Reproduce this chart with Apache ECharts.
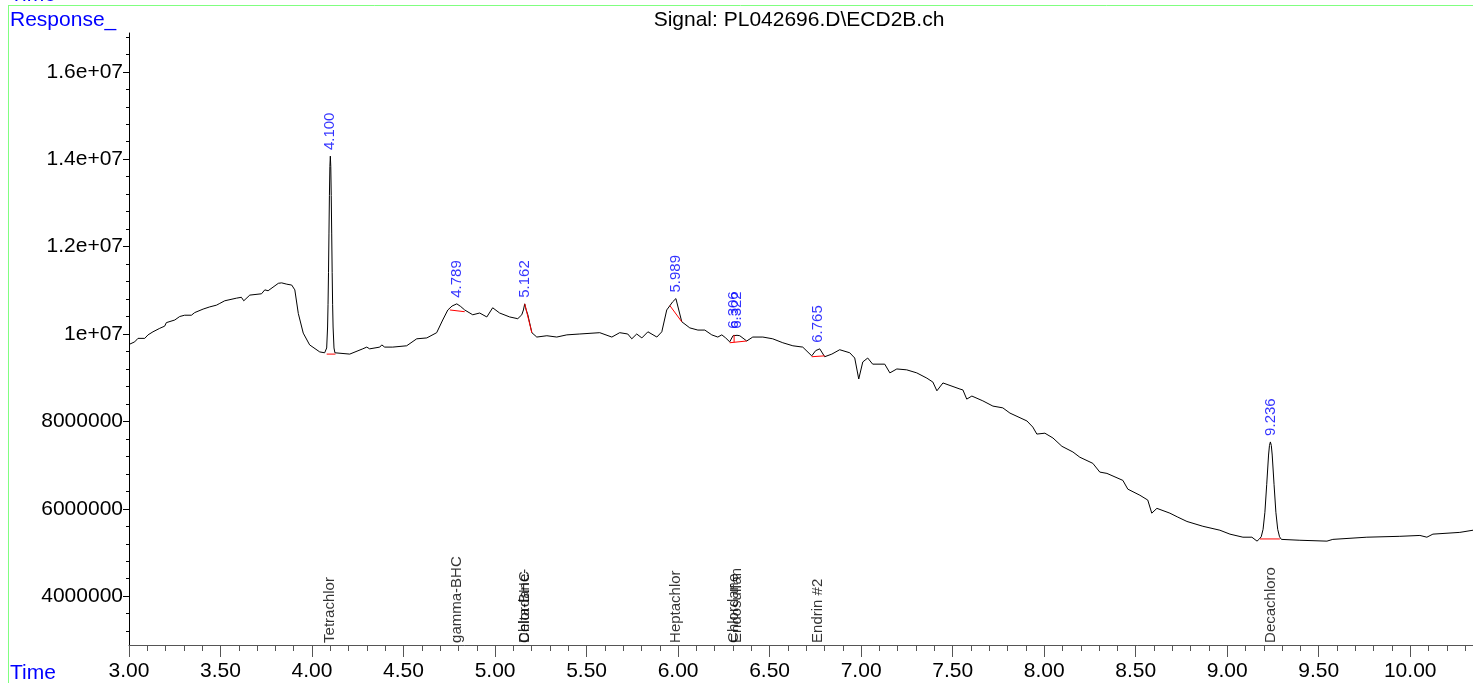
<!DOCTYPE html>
<html><head><meta charset="utf-8">
<script src="https://cdn.jsdelivr.net/npm/echarts@6/dist/echarts.min.js"></script>
<style>html,body{margin:0;padding:0;background:#fff;overflow:hidden}#c{width:1473px;height:683px}</style>
</head><body><div id="c"></div>
<script>
// Signal trace: [time (min), response]
const signal = [
[3.000,9.76e6],[3.004,9.77e6],[3.031,9.82e6],[3.049,9.90e6],[3.086,9.90e6],[3.104,9.98e6],[3.113,9.94e6],
[3.131,10.05e6],[3.168,10.13e6],[3.195,10.18e6],[3.204,10.26e6],[3.250,10.32e6],[3.277,10.40e6],[3.304,10.43e6],
[3.341,10.43e6],[3.359,10.49e6],[3.405,10.57e6],[3.441,10.62e6],[3.478,10.66e6],[3.496,10.70e6],[3.523,10.76e6],
[3.587,10.82e6],[3.614,10.84e6],[3.627,10.76e6],[3.660,10.89e6],[3.724,10.92e6],[3.742,11.01e6],[3.760,10.99e6],
[3.816,11.16e6],[3.834,11.17e6],[3.862,11.14e6],[3.889,11.12e6],[3.906,11.01e6],[3.925,10.47e6],[3.952,10.02e6],
[3.987,9.75e6],[4.042,9.59e6],[4.069,9.57e6],
[4.075,9.57e6],[4.080,9.68e6],[4.085,10.16e6],[4.0875,10.68e6],[4.090,11.41e6],[4.0925,12.29e6],[4.095,13.17e6],
[4.0975,13.83e6],[4.100,14.07e6],[4.1025,13.83e6],[4.105,13.17e6],[4.1075,12.29e6],[4.110,11.41e6],[4.1125,10.68e6],
[4.115,10.16e6],[4.120,9.68e6],[4.125,9.57e6],
[4.135,9.54e6],[4.206,9.54e6],[4.277,9.66e6],[4.299,9.70e6],[4.315,9.66e6],[4.370,9.70e6],[4.381,9.75e6],
[4.397,9.70e6],[4.441,9.70e6],[4.517,9.73e6],[4.572,9.89e6],[4.627,9.91e6],[4.681,10.03e6],[4.714,10.32e6],
[4.742,10.55e6],[4.765,10.64e6],[4.791,10.69e6],[4.812,10.63e6],[4.834,10.55e6],[4.878,10.44e6],[4.916,10.48e6],
[4.955,10.39e6],[4.987,10.60e6],[5.025,10.48e6],[5.080,10.39e6],[5.124,10.35e6],[5.146,10.44e6],[5.155,10.55e6],
[5.162,10.69e6],[5.170,10.55e6],[5.179,10.44e6],[5.201,10.03e6],[5.228,9.93e6],[5.283,9.96e6],[5.337,9.93e6],
[5.392,9.98e6],[5.463,10.00e6],[5.572,10.03e6],[5.638,9.93e6],[5.681,10.03e6],[5.725,10.00e6],[5.747,9.89e6],
[5.774,10.00e6],[5.802,9.91e6],[5.835,10.05e6],[5.884,9.93e6],[5.911,10.05e6],[5.938,10.55e6],[5.971,10.74e6],
[5.988,10.81e6],[6.020,10.28e6],[6.064,10.14e6],[6.108,10.09e6],[6.146,10.09e6],[6.184,9.98e6],[6.217,9.93e6],
[6.239,9.98e6],[6.260,9.91e6],[6.282,9.82e6],[6.300,9.96e6],[6.309,9.98e6],[6.322,9.97e6],[6.337,9.96e6],
[6.375,9.84e6],[6.408,9.93e6],[6.463,9.93e6],[6.517,9.89e6],[6.572,9.80e6],[6.627,9.73e6],[6.681,9.70e6],
[6.730,9.50e6],[6.752,9.62e6],[6.774,9.66e6],[6.801,9.48e6],[6.840,9.54e6],[6.883,9.64e6],[6.938,9.57e6],
[6.965,9.45e6],[6.987,8.97e6],[7.009,9.36e6],[7.036,9.45e6],[7.063,9.31e6],[7.129,9.31e6],[7.157,9.11e6],
[7.195,9.20e6],[7.249,9.18e6],[7.304,9.11e6],[7.359,8.99e6],[7.392,8.90e6],[7.414,8.70e6],[7.447,8.88e6],
[7.540,8.74e6],[7.556,8.72e6],[7.577,8.51e6],[7.605,8.58e6],[7.665,8.47e6],[7.720,8.35e6],[7.774,8.31e6],
[7.813,8.19e6],[7.906,8.01e6],[7.938,7.87e6],[7.960,7.71e6],[8.004,7.73e6],[8.048,7.62e6],[8.097,7.43e6],
[8.157,7.30e6],[8.195,7.18e6],[8.266,7.04e6],[8.304,6.84e6],[8.343,6.81e6],[8.430,6.65e6],[8.457,6.45e6],
[8.523,6.31e6],[8.566,6.20e6],[8.588,5.90e6],[8.616,6.01e6],[8.687,5.90e6],[8.730,5.81e6],[8.780,5.71e6],
[8.867,5.60e6],[8.960,5.51e6],[9.015,5.42e6],[9.086,5.35e6],[9.135,5.35e6],[9.163,5.26e6],[9.176,5.31e6],
[9.186,5.36e6],[9.196,5.53e6],[9.206,5.92e6],[9.216,6.56e6],[9.226,7.23e6],[9.231,7.45e6],[9.236,7.53e6],
[9.241,7.45e6],[9.246,7.23e6],[9.256,6.56e6],[9.266,5.92e6],[9.276,5.53e6],[9.286,5.36e6],[9.296,5.30e6],
[9.397,5.28e6],[9.545,5.26e6],[9.577,5.30e6],[9.763,5.35e6],[9.943,5.37e6],[10.053,5.39e6],[10.091,5.35e6],
[10.124,5.42e6],[10.271,5.46e6],[10.343,5.51e6]
];

const peakTimes  = [4.100, 4.789, 5.162, 5.989, 6.306, 6.322, 6.765, 9.236];
const peakTops   = [14.07e6, 10.69e6, 10.69e6, 10.81e6, 9.98e6, 9.98e6, 9.66e6, 7.53e6];
const peakLabels = ['4.100','4.789','5.162','5.989','6.306','6.322','6.765','9.236'];

const compoundTimes = [4.100, 4.789, 5.162, 5.162, 5.989, 6.306, 6.322, 6.765, 9.236];
const compoundNames = ['Tetrachlor','gamma-BHC','Delta-BHC','Chlordane-','Heptachlor','Chlordane','Endosulfan','Endrin #2','Decachloro'];

const baselineSegments = [
  [[4.080,9.54e6],[4.128,9.54e6]],
  [[4.753,10.55e6],[4.834,10.51e6]],
  [[5.162,10.69e6],[5.201,10.03e6]],
  [[5.955,10.65e6],[6.020,10.28e6]],
  [[6.282,9.80e6],[6.375,9.84e6]],
  [[6.306,9.81e6],[6.306,9.98e6]],
  [[6.730,9.48e6],[6.801,9.50e6]],
  [[9.179,5.31e6],[9.288,5.31e6]]
];

const xTickValues = [3.0,3.5,4.0,4.5,5.0,5.5,6.0,6.5,7.0,7.5,8.0,8.5,9.0,9.5,10.0];
const xTickLabels = ['3.00','3.50','4.00','4.50','5.00','5.50','6.00','6.50','7.00','7.50','8.00','8.50','9.00','9.50','10.00'];
const yTickValues = [4e6, 6e6, 8e6, 1e7, 1.2e7, 1.4e7, 1.6e7];
const yTickLabels = ['4000000','6000000','8000000','1e+07','1.2e+07','1.4e+07','1.6e+07'];

const X_MIN = 3.0, X_MAX = 10.343, Y_MIN = 2.883e6, Y_MAX = 16.888e6;

const xMinor = [];
for (let i = 31; i <= 103; i++) { if (i % 5 !== 0) xMinor.push(i / 10); }
const yMinor = [];
for (let i = 8; i <= 42; i++) { if (i % 5 !== 0) yMinor.push(i * 4e5); }

const FONT = '"Liberation Sans", Arial, sans-serif';
const chart = echarts.init(document.getElementById('c'), null, {renderer: 'canvas'});

const series = [{
  type: 'line', data: signal, symbol: 'none', smooth: false, clip: true,
  lineStyle: {color: '#000', width: 1}, silent: true, z: 2
}];
baselineSegments.forEach(seg => series.push({
  type: 'line', data: seg, symbol: 'none', lineStyle: {color: '#ff0000', width: 1}, silent: true, z: 3
}));
series.push({
  type: 'scatter', data: peakTimes.map((t, i) => [t, peakTops[i]]), symbolSize: 0.1,
  itemStyle: {color: 'transparent'}, silent: true, z: 4,
  label: {show: true, formatter: p => peakLabels[p.dataIndex], position: 'top', distance: 6, rotate: 90,
    align: 'left', verticalAlign: 'middle', color: '#0000ff', fontSize: 15, fontFamily: FONT}
});
series.push({
  type: 'scatter', data: compoundTimes.map(t => [t, Y_MIN]), symbolSize: 0.1, clip: false,
  itemStyle: {color: 'transparent'}, silent: true, z: 4,
  label: {show: true, formatter: p => compoundNames[p.dataIndex], position: 'top', distance: 2, rotate: 90,
    align: 'left', verticalAlign: 'middle', color: '#000', fontSize: 15, fontFamily: FONT}
});

chart.setOption({
  animation: false,
  backgroundColor: '#fff',
  textStyle: {fontFamily: FONT},
  grid: {left: 129, right: 0, top: 33, bottom: 38, containLabel: false},
  xAxis: [{
    type: 'value', min: X_MIN, max: X_MAX, position: 'bottom', offset: 0,
    axisLine: {show: true, lineStyle: {color: '#555', width: 1}},
    axisTick: {show: true, customValues: xTickValues, length: 12, lineStyle: {color: '#555'}},
    axisLabel: {show: true, customValues: xTickValues, margin: 16, fontSize: 21, color: '#000', fontFamily: FONT,
      formatter: v => { const i = xTickValues.findIndex(x => Math.abs(x - v) < 1e-6); return i >= 0 ? xTickLabels[i] : ''; }},
    splitLine: {show: false}
  }, {
    type: 'value', min: X_MIN, max: X_MAX, position: 'bottom', offset: 0,
    axisLine: {show: false},
    axisTick: {show: true, customValues: xMinor, length: 6, lineStyle: {color: '#555'}},
    axisLabel: {show: false}, splitLine: {show: false}
  }],
  yAxis: [{
    type: 'value', min: Y_MIN, max: Y_MAX, position: 'left', offset: 0,
    axisLine: {show: true, lineStyle: {color: '#000', width: 1}},
    axisTick: {show: true, customValues: yTickValues, length: 6, lineStyle: {color: '#000'}},
    axisLabel: {show: true, customValues: yTickValues, margin: 6, fontSize: 21, color: '#000', fontFamily: FONT,
      formatter: v => { const i = yTickValues.findIndex(y => Math.abs(y - v) < 1); return i >= 0 ? yTickLabels[i] : ''; }},
    splitLine: {show: false}
  }, {
    type: 'value', min: Y_MIN, max: Y_MAX, position: 'left', offset: 0,
    axisLine: {show: false},
    axisTick: {show: true, customValues: yMinor, length: 3, lineStyle: {color: '#000'}},
    axisLabel: {show: false}, splitLine: {show: false}
  }],
  graphic: [
    {type: 'line', shape: {x1: 8, y1: 5.5, x2: 1473, y2: 5.5}, style: {stroke: '#80ff80', lineWidth: 1}, silent: true},
    {type: 'line', shape: {x1: 8.5, y1: 5, x2: 8.5, y2: 683}, style: {stroke: '#80ff80', lineWidth: 1}, silent: true},
    {type: 'text', x: 10, y: -15, style: {text: 'Time', font: '21px ' + FONT, fill: '#0000ff', verticalAlign: 'top'}, silent: true},
    {type: 'text', x: 10, y: 10, style: {text: 'Response_', font: '21px ' + FONT, fill: '#0000ff', verticalAlign: 'top'}, silent: true},
    {type: 'text', x: 10, y: 663, style: {text: 'Time', font: '21px ' + FONT, fill: '#0000ff', verticalAlign: 'top'}, silent: true},
    {type: 'text', x: 799, y: 10, style: {text: 'Signal: PL042696.D\\ECD2B.ch', font: '21px ' + FONT, fill: '#000', align: 'center', verticalAlign: 'top'}, silent: true}
  ],
  series: series
});
</script>
</body></html>
